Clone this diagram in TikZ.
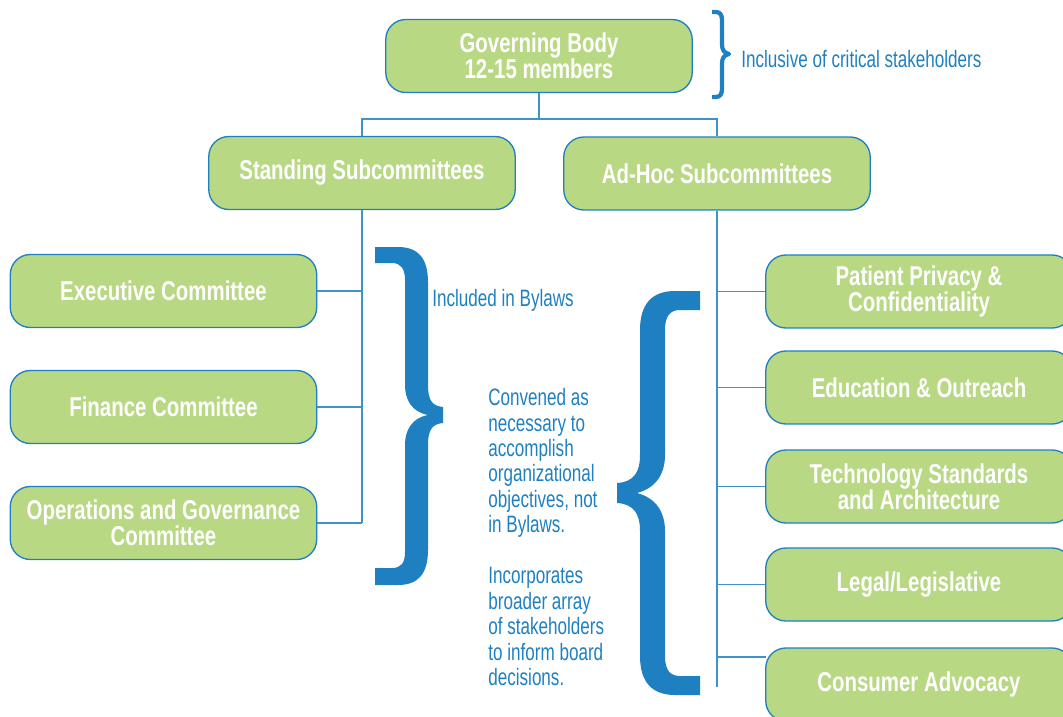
\documentclass[tikz,border=0pt]{standalone}
\usepackage{fontspec}
\setmainfont[FakeStretch=0.72,BoldFeatures={FakeStretch=0.75}]{Liberation Sans}
\definecolor{leaf}{RGB}{184,216,131}
\definecolor{ink}{RGB}{30,128,193}

\begin{document}
\begin{tikzpicture}[x=0.02cm, y=-0.02cm,
  box/.style={rectangle, rounded corners=0.4cm, draw=ink, line width=0.75pt, fill=leaf, text=white, font=\fontsize{15.5}{15}\selectfont\bfseries, align=center, minimum width=6.13cm, minimum height=1.46cm, inner sep=0pt},
  conn/.style={draw=ink!85, line width=0.8pt},
  note/.style={text=ink, font=\fontsize{13.5}{14.5}\selectfont, align=left, inner sep=0pt},
  curly/.style={fill=ink, draw=none}]
\useasboundingbox (0,0) rectangle (1063,717);
%top
\node[box] (gov) at (539,56){Governing Body\\12-15 members};
\node[box] (stand) at (362,173){Standing Subcommittees};
\node[box] (adhoc) at (717,173.5){Ad-Hoc Subcommittees};
%standing
\node[box] (exec) at (163.5,291){Executive Committee};
\node[box] (fin) at (163.5,407){Finance Committee};
\node[box] (ops) at (163.5,523){Operations and Governance\\Committee};
%ad hoc
\node[box] (priv) at (919,291.5){Patient Privacy \&\\Confidentiality};
\node[box] (edu) at (919,387.5){Education \& Outreach};
\node[box] (tech) at (919,486.5){Technology Standards\\and Architecture};
\node[box] (legal) at (919,584.5){Legal/Legislative};
\node[box] (cons) at (919,684.5){Consumer Advocacy};
\coordinate (split) at (539,119);
\coordinate (adend) at (717,687);
\coordinate (consjoin) at (766,657);
\draw[conn] (gov.south) -- (split);
\draw[conn] (stand.north) |- (split) -| (adhoc.north);
\draw[conn] (stand.south) -- (stand.south |- ops.east);
\draw[conn] (exec.east) -- (exec.east -| stand.south);
\draw[conn] (fin.east) -- (fin.east -| stand.south);
\draw[conn] (ops.east) -- (ops.east -| stand.south);
\draw[conn] (adhoc.south) -- (adend);
\draw[conn] (priv.west) -- (priv.west -| adend);
\draw[conn] (edu.west) -- (edu.west -| adend);
\draw[conn] (tech.west) -- (tech.west -| adend);
\draw[conn] (legal.west) -- (legal.west -| adend);
\draw[conn] (consjoin) -- (consjoin -| adend);
%braces
\draw[ink, line width=2.4pt, line join=round] (712,12) -- (716,12) .. controls (720,12) and (722,15) .. (722,20) -- (722,44) .. controls (722,50) and (724,53) .. (729,54) .. controls (724,55) and (722,58) .. (722,64) -- (722,89) .. controls (722,94) and (720,97) .. (716,97) -- (712,97);
\fill[curly] (375,247) -- (398,247) .. controls (418,247) and (428,258) .. (428,282) -- (428,385) .. controls (428,400) and (432,406) .. (443,407) -- (443,423) .. controls (432,424) and (428,430) .. (428,445) -- (428,550) .. controls (428,574) and (418,585) .. (398,585) -- (375,585) -- (375,568) -- (392,568) .. controls (401,568) and (405,563) .. (405,552) -- (405,445) .. controls (405,430) and (412,418) .. (428,415) .. controls (412,412) and (405,400) .. (405,385) -- (405,280) .. controls (405,269) and (401,263) .. (392,263) -- (375,263) -- cycle;
\fill[curly] (700,291) -- (675,291) .. controls (652,291) and (640,304) .. (640,330) -- (640,455) .. controls (640,472) and (634,482) .. (617,483) -- (617,503) .. controls (634,504) and (640,514) .. (640,531) -- (640,656) .. controls (640,682) and (652,695) .. (675,695) -- (700,695) -- (700,676) -- (680,676) .. controls (670,676) and (665,670) .. (665,656) -- (665,531) .. controls (665,512) and (656,498) .. (637,493) .. controls (656,488) and (665,474) .. (665,455) -- (665,330) .. controls (665,316) and (670,310) .. (680,310) -- (700,310) -- cycle;
%notes
\node[note, anchor=west] (incl) at (741,59){Inclusive of critical stakeholders};
\node[note, anchor=west] (bylaws) at (432,300){Included in Bylaws};
\node[note, anchor=north west] (conv) at (488,388){Convened as\\necessary to\\accomplish\\organizational\\objectives, not\\in Bylaws.\\[14.5pt]Incorporates\\broader array\\of stakeholders\\to inform board\\decisions.};
\end{tikzpicture}
\end{document}
